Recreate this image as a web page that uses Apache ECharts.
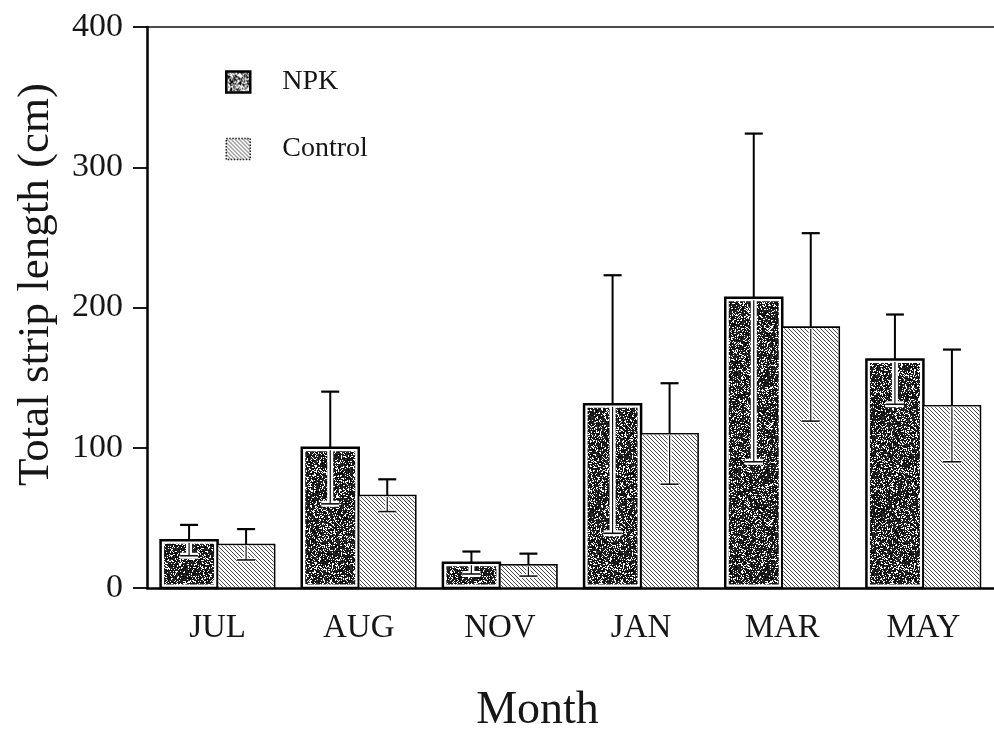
<!DOCTYPE html>
<html>
<head>
<meta charset="utf-8">
<title>Total strip length by month</title>
<script src="https://cdn.jsdelivr.net/npm/echarts@6/dist/echarts.min.js"></script>
<style>
  html, body { margin: 0; padding: 0; background: #fff; overflow: hidden; }
  #chart { width: 994px; height: 739px; }
</style>
</head>
<body>
<div id="chart"></div>
<script>
// Months sampled
const months = ['JUL', 'AUG', 'NOV', 'JAN', 'MAR', 'MAY'];
// Mean total strip length (cm) and standard error, fertilised plots
const npkMean = [34, 100, 18, 131, 207, 163];
const npkErr = [11, 40, 8, 92, 117, 32];
// Mean total strip length (cm) and standard error, control plots
const ctrlMean = [31, 66, 16.5, 110, 186, 130];
const ctrlErr = [11, 11.5, 8, 36, 67, 40];
// Value axis ticks
const yTicks = [0, 100, 200, 300, 400];

const FONT = '"Liberation Serif", "Times New Roman", serif';
const INK = '#161616';

// Small seeded generator so the stipple texture is the same on every load
function seeded(seed) {
  let s = seed >>> 0;
  return function () {
    s = (s + 0x6D2B79F5) >>> 0;
    let t = s;
    t = Math.imul(t ^ (t >>> 15), t | 1);
    t ^= t + Math.imul(t ^ (t >>> 7), t | 61);
    return ((t ^ (t >>> 14)) >>> 0) / 4294967296;
  };
}

// Dark stipple fill used for NPK bars
function stipple(size, darkShare, seed) {
  const cv = document.createElement('canvas');
  cv.width = size; cv.height = size;
  const ctx = cv.getContext('2d');
  ctx.fillStyle = '#fff';
  ctx.fillRect(0, 0, size, size);
  const rnd = seeded(seed);
  for (let y = 0; y < size; y++) {
    for (let x = 0; x < size; x++) {
      if (rnd() < darkShare) {
        const g = Math.floor(rnd() * 50);
        ctx.fillStyle = 'rgb(' + g + ',' + g + ',' + g + ')';
        ctx.fillRect(x, y, 1, 1);
      }
    }
  }
  return cv;
}

// Diagonal hatching used for Control bars
function hatch(step, color) {
  const n = step * 8;
  const cv = document.createElement('canvas');
  cv.width = n; cv.height = n;
  const ctx = cv.getContext('2d');
  ctx.fillStyle = '#fff';
  ctx.fillRect(0, 0, n, n);
  ctx.fillStyle = color;
  for (let y = 0; y < n; y++) {
    for (let x = 0; x < n; x++) {
      if (((x - y) % step + step) % step === 0) ctx.fillRect(x, y, 1, 1);
    }
  }
  return cv;
}

const npkFill = { image: stipple(97, 0.76, 7), repeat: 'repeat' };
const npkKeyFill = { image: stipple(31, 0.45, 11), repeat: 'repeat' };
const ctrlFill = { image: hatch(4, '#4a4a4a'), repeat: 'repeat' };

const BAR_W = 57;

// Draws one bar with its standard-error whisker; side -1 = left of tick, +1 = right
function barRenderer(side, fill, frameWidth, inset, halo) {
  return function (params, api) {
    const idx = api.value(0);
    const mean = api.value(1);
    const err = api.value(2);
    const base = api.coord([idx, 0]);
    const cx = base[0];
    const y0 = base[1];
    const yTop = api.coord([idx, mean])[1];
    const yHi = api.coord([idx, mean + err])[1];
    const yLo = api.coord([idx, Math.max(mean - err, 0)])[1];
    const x0 = side < 0 ? cx - BAR_W : cx;
    const ex = x0 + BAR_W / 2;
    const cap = 9;
    const children = [
      {
        type: 'rect',
        shape: { x: x0, y: yTop, width: BAR_W, height: y0 - yTop },
        style: { fill: '#fff', stroke: '#000', lineWidth: frameWidth }
      },
      {
        type: 'rect',
        shape: {
          x: x0 + inset, y: yTop + inset,
          width: BAR_W - 2 * inset, height: Math.max(y0 - yTop - 2 * inset, 0)
        },
        style: { fill: fill }
      },
      // lower half of the whisker, inside the bar
      {
        type: 'polyline',
        shape: { points: [[ex, yTop + frameWidth], [ex, yLo], [ex - cap, yLo], [ex + cap, yLo]] },
        style: { stroke: '#fff', lineWidth: halo, fill: null }
      },
      {
        type: 'line',
        shape: { x1: ex, y1: yTop + frameWidth, x2: ex, y2: yLo },
        style: { stroke: '#111', lineWidth: 1.2 }
      },
      {
        type: 'line',
        shape: { x1: ex - cap, y1: yLo, x2: ex + cap, y2: yLo },
        style: { stroke: '#111', lineWidth: 1.6 }
      },
      // upper half of the whisker
      {
        type: 'line',
        shape: { x1: ex, y1: yTop, x2: ex, y2: yHi },
        style: { stroke: '#000', lineWidth: 2 }
      },
      {
        type: 'line',
        shape: { x1: ex - cap, y1: yHi, x2: ex + cap, y2: yHi },
        style: { stroke: '#000', lineWidth: 2.2 }
      }
    ];
    return { type: 'group', children: children };
  };
}

const npkData = months.map((m, i) => [i, npkMean[i], npkErr[i]]);
const ctrlData = months.map((m, i) => [i, ctrlMean[i], ctrlErr[i]]);

const chart = echarts.init(document.getElementById('chart'), null, { renderer: 'canvas' });

chart.setOption({
  animation: false,
  backgroundColor: '#fff',
  grid: { left: 147, top: 27, width: 853, height: 571, containLabel: false },
  legend: {
    orient: 'vertical',
    left: 225,
    top: 68,
    padding: 0,
    itemWidth: 24,
    itemHeight: 21,
    itemGap: 39,
    selectedMode: false,
    textStyle: { fontFamily: FONT, fontSize: 28, color: INK, padding: [3, 0, 0, 27] },
    data: [
      { name: 'NPK', icon: 'rect', itemStyle: { color: npkKeyFill, borderColor: '#000', borderWidth: 2.5 } },
      { name: 'Control', icon: 'rect', itemStyle: { color: ctrlFill, borderColor: '#222', borderWidth: 1.5, borderType: 'dotted' } }
    ]
  },
  xAxis: [
    {
      type: 'category',
      data: months,
      boundaryGap: true,
      name: 'Month',
      nameLocation: 'middle',
      nameGap: 100,
      nameTextStyle: { fontFamily: FONT, fontSize: 46, color: INK, padding: [0, 66, 0, 0] },
      axisLine: { lineStyle: { color: '#000', width: 2.5 } },
      axisTick: { alignWithLabel: true, length: 12, lineStyle: { color: '#000', width: 2 } },
      axisLabel: { fontFamily: FONT, fontSize: 33, color: INK, margin: 24 },
      splitLine: { show: false }
    },
    {
      type: 'category',
      data: months,
      position: 'top',
      axisLine: { lineStyle: { color: '#111', width: 1.6 } },
      axisTick: { show: false },
      axisLabel: { show: false },
      splitLine: { show: false }
    }
  ],
  yAxis: {
    type: 'value',
    min: yTicks[0],
    max: yTicks[yTicks.length - 1],
    interval: 100,
    name: 'Total strip length (cm)',
    nameLocation: 'middle',
    nameGap: 88,
    nameTextStyle: { fontFamily: FONT, fontSize: 45, color: INK, padding: [0, 0, 0, 46] },
    axisLine: { show: true, lineStyle: { color: '#000', width: 2.5 } },
    axisTick: { show: true, length: 14, lineStyle: { color: '#000', width: 1.8 } },
    axisLabel: { fontFamily: FONT, fontSize: 34, color: INK, margin: 24 },
    splitLine: { show: false }
  },
  series: [
    {
      name: 'NPK',
      type: 'custom',
      renderItem: barRenderer(-1, npkFill, 2.5, 3.5, 6),
      encode: { x: 0, y: 1 },
      data: npkData,
      itemStyle: { color: '#333' },
      z: 2
    },
    {
      name: 'Control',
      type: 'custom',
      renderItem: barRenderer(1, ctrlFill, 1.6, 1, 4),
      encode: { x: 0, y: 1 },
      data: ctrlData,
      itemStyle: { color: '#aaa' },
      z: 3
    }
  ]
});
</script>
</body>
</html>
